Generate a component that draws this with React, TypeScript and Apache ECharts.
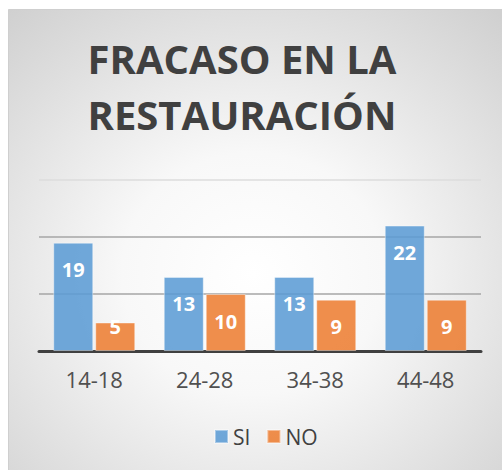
import React, { useEffect, useRef } from "react";
import * as echarts from "echarts";

const categories = ["14-18", "24-28", "34-38", "44-48"];
const siValues = [19, 13, 13, 22];
const noValues = [5, 10, 9, 9];
const seriesNames = ["SI", "NO"];
const titleText = "FRACASO EN LA\nRESTAURACIÓN";

export default function App() {
  const ref = useRef<HTMLDivElement>(null);
  useEffect(() => {
    const chart = echarts.init(ref.current!, null, { renderer: "svg" });
    const labelBase = {
      show: true,
      position: "insideTop",
      distance: 17,
      color: "#ffffff",
      fontFamily: "Open Sans",
      fontWeight: "bold",
      fontSize: 20,
    };
    chart.setOption({
      animation: false,
      backgroundColor: "#ffffff",
      graphic: [
        {
          type: "rect",
          z: -10,
          silent: true,
          shape: { x: 8.5, y: 9.5, width: 520, height: 480 },
          style: {
            fill: {
              type: "radial",
              x: 0.47,
              y: 0.55,
              r: 0.72,
              colorStops: [
                { offset: 0, color: "#ffffff" },
                { offset: 0.35, color: "#f8f8f8" },
                { offset: 1, color: "#d0d0d0" },
              ],
            },
            stroke: "#cfcfcf",
            lineWidth: 1,
          },
        },
        {
          type: "text",
          x: 242,
          y: 30,
          style: {
            text: titleText,
            fill: "#404040",
            font: "bold 40px 'Open Sans'",
            textAlign: "center",
            textVerticalAlign: "top",
            lineHeight: 56,
          },
        },
      ],
      legend: {
        data: seriesNames,
        left: 214,
        top: 426,
        padding: 0,
        icon: "rect",
        itemWidth: 13,
        itemHeight: 13,
        itemGap: 16,
        textStyle: { color: "#404040", fontSize: 21, fontFamily: "Open Sans" },
      },
      grid: { left: 39, right: 21, top: 180, bottom: 119 },
      xAxis: {
        type: "category",
        data: categories,
        axisTick: { show: false },
        axisLine: { lineStyle: { color: "#404040", width: 3 } },
        axisLabel: {
          color: "#505050",
          fontSize: 22,
          fontFamily: "Open Sans",
          margin: 17,
        },
      },
      yAxis: {
        type: "value",
        min: 0,
        max: 30,
        interval: 10,
        axisLabel: { show: false },
        axisLine: { show: false },
        axisTick: { show: false },
        splitLine: {
          lineStyle: {
            color: ["#a6a6a6", "#a6a6a6", "#a6a6a6", "#dcdcdc"],
            width: 1.5,
          },
        },
      },
      series: [
        {
          name: seriesNames[0],
          type: "bar",
          data: siValues,
          barWidth: 40,
          barGap: "5%",
          z: 3,
          itemStyle: {
            color: "rgba(91,155,213,0.87)",
            borderColor: "rgba(255,255,255,0.4)",
            borderWidth: 1,
          },
          label: labelBase,
        },
        {
          name: seriesNames[1],
          type: "bar",
          data: noValues.map((v) =>
            v < 8 ? { value: v, label: { distance: 0, offset: [0, -6] } } : v
          ),
          barWidth: 40,
          barGap: "5%",
          z: 3,
          itemStyle: {
            color: "rgba(237,125,49,0.87)",
            borderColor: "rgba(255,255,255,0.4)",
            borderWidth: 1,
          },
          label: labelBase,
        },
      ],
    });
    return () => chart.dispose();
  }, []);
  return (
    <div
      ref={ref}
      style={{ position: "fixed", left: 0, top: 0, width: 502, height: 470 }}
    />
  );
}
